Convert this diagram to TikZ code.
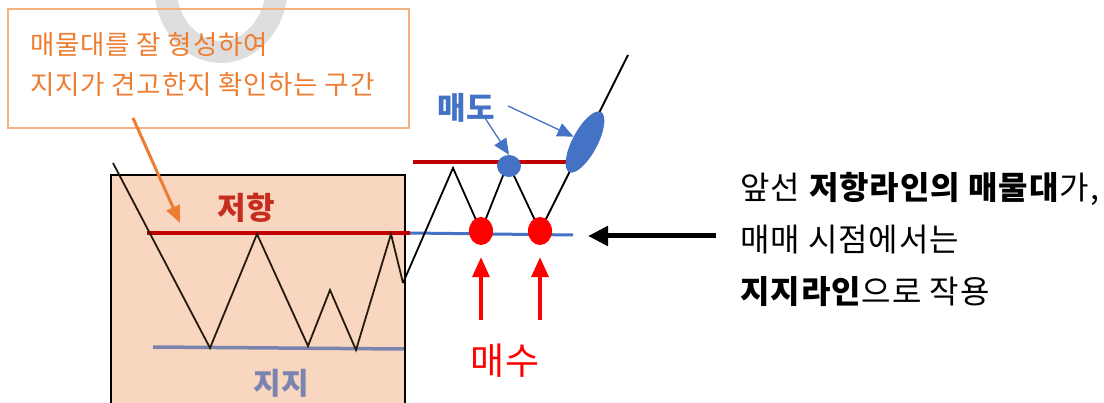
\documentclass[tikz,border=0pt]{standalone}
\usepackage{fontspec}
\setmainfont{Noto Sans CJK KR}
\newfontfamily\spacedfont{Noto Sans CJK KR}[LetterSpace=3]
\usetikzlibrary{positioning, arrows.meta, shapes.geometric}
\usepackage{xcolor}
\definecolor{noteOrange}{HTML}{ED7D31}
\definecolor{noteBorder}{HTML}{F4B183}
\definecolor{zoneFill}{HTML}{F8D6C0}
\definecolor{resistRed}{HTML}{C00000}
\definecolor{resistText}{HTML}{C62D1F}
\definecolor{supportGray}{HTML}{7B84AE}
\definecolor{sellBlue}{HTML}{4472C4}
\definecolor{buyRed}{HTML}{FF0000}

\begin{document}
\begin{tikzpicture}[
    x=1pt, y=-1pt,
    price/.style={draw=black, line width=1.8pt, line join=miter},
    zone/.style={draw=black, line width=2.2pt, fill=zoneFill},
    notebox/.style={draw=noteBorder, line width=1.8pt},
    watermark/.style={draw=black!13, line width=22pt},
    sellpt/.style={ellipse, fill=sellBlue, inner sep=0pt},
    buypt/.style={ellipse, fill=buyRed, inner sep=0pt, minimum width=24pt, minimum height=28pt},
    sellarrow/.style={draw=sellBlue, line width=1.3pt, -{Triangle[length=16pt, width=14pt]}},
    buyarrow/.style={draw=buyRed, line width=3.5pt, -{Triangle[length=20pt, width=17pt]}},
    notearrow/.style={draw=noteOrange, line width=3pt, -{Triangle[length=17pt, width=14pt]}},
    bigarrow/.style={draw=black, line width=5pt, -{Triangle[length=20pt, width=19pt]}},
    tag/.style={inner sep=0pt}
]
    \useasboundingbox (0,0) rectangle (1104,403);

    % watermark
    \draw[watermark] (165,-15) arc[start angle=180, end angle=0, x radius=56, y radius=67];

    % note box
    \draw[notebox] (8,9) rectangle (409,128);
    \node[tag, anchor=north west, align=left, text=noteOrange,
          font=\spacedfont\fontsize{26.5}{40}\selectfont] (remark) at (30,32)
          {매물대를 잘 형성하여\\지지가 견고한지 확인하는 구간};

    % accumulation zone
    \draw[zone] (111,175) rectangle (405,430);

    % levels
    \draw[resistRed, line width=3.5pt] (147,233) -- (410,233);
    \draw[sellBlue, line width=3pt] (410,233) -- (573,235);
    \draw[resistRed, line width=3.5pt] (413,162) -- (573,162);
    \draw[supportGray, line width=3.5pt] (153,347) -- (404,349);

    \node[tag, text=resistText, font=\fontsize{31}{31}\selectfont\bfseries] (resist) at (246,208) {저항};
    \node[tag, text=supportGray, font=\fontsize{30}{30}\selectfont\bfseries] (support) at (281,383) {지지};

    % price path
    \coordinate (p0) at (113,163);
    \coordinate (p1) at (210,348);
    \coordinate (p2) at (257,234);
    \coordinate (p3) at (308,346);
    \coordinate (p4) at (330,290);
    \coordinate (p5) at (356,350);
    \coordinate (p6) at (391,234);
    \coordinate (p7) at (403,283);
    \coordinate (p8) at (453,168);
    \coordinate (p9) at (481,231);
    \coordinate (p10) at (508,163);
    \coordinate (p11) at (540,231);
    \coordinate (p12) at (628,55);
    \draw[price, draw=black!80!brown] (p0) -- (p1) -- (p2) -- (p3) -- (p4) -- (p5) -- (p6) -- (p7);
    \draw[price] (p7) -- (p8) -- (p9) -- (p10) -- (p11) -- (p12);

    % sell points
    \node[sellpt, minimum width=24pt, minimum height=22pt] (sell1) at (509,166) {};
    \node[sellpt, minimum width=68pt, minimum height=25pt, rotate=62] (sell2) at (585,142) {};
    \node[tag, text=sellBlue, font=\fontsize{31}{31}\selectfont\bfseries] (selltag) at (466,108) {매도};
    \coordinate (s1) at (485,118);
    \coordinate (s2) at (508,106);
    \draw[sellarrow] (s1) -- (sell1.north);
    \draw[sellarrow] (s2) -- (sell2);

    % buy points
    \node[buypt] (buy1) at (p9) {};
    \node[buypt] (buy2) at (p11) {};
    \coordinate (b1) at (481,320);
    \coordinate (b2) at (540,320);
    \draw[buyarrow, shorten >=12pt] (b1) -- (buy1.south);
    \draw[buyarrow, shorten >=12pt] (b2) -- (buy2.south);
    \node[tag, text=buyRed, font=\fontsize{37}{37}\selectfont] (buytag) at (505,361) {매수};

    % pointers
    \coordinate (o1) at (133,118);
    \coordinate (o2) at (180,223);
    \draw[notearrow] (o1) -- (o2);

    \node[tag, anchor=north west, align=left, font=\spacedfont\fontsize{32}{52}\selectfont] (note) at (740,172)
        {앞선 \textbf{저항라인의 매물대}가,\\매매 시점에서는\\\textbf{지지라인}으로 작용};
    \coordinate (tail) at (716,236);
    \coordinate (head) at (588,236);
    \draw[bigarrow] (tail) -- (head);
\end{tikzpicture}
\end{document}
